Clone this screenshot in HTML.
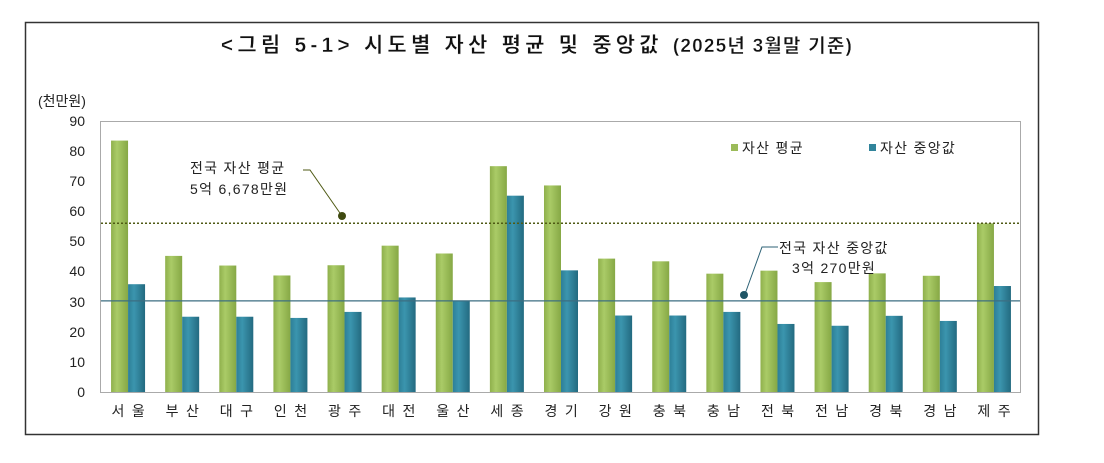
<!DOCTYPE html>
<html><head><meta charset="utf-8"><style>
body{margin:0;background:#fff;}
svg text{font-family:"Liberation Sans","Noto Sans CJK KR",sans-serif;}
</style></head><body>
<svg width="1104" height="458" xmlns="http://www.w3.org/2000/svg">
<defs>
<linearGradient id="g" x1="0" x2="1" y1="0" y2="0"><stop offset="0" stop-color="#8fb04c"/><stop offset="0.35" stop-color="#aacb67"/><stop offset="1" stop-color="#86a845"/></linearGradient>
<linearGradient id="b" x1="0" x2="1" y1="0" y2="0"><stop offset="0" stop-color="#2d7f97"/><stop offset="0.35" stop-color="#3b95ae"/><stop offset="1" stop-color="#236a80"/></linearGradient>
</defs>
<rect x="25.5" y="22.5" width="1013" height="412" fill="#fff" stroke="#333" stroke-width="1.5"/>
<text x="537" y="52" font-size="21" font-weight="bold" letter-spacing="4.2" text-anchor="middle" fill="#111" stroke="#fff" stroke-width="0.4">&lt;그림 5-1&gt; 시도별 자산 평균 및 중앙값 <tspan font-size="19" letter-spacing="1.2">(2025년 3월말 기준)</tspan></text>
<text x="38" y="106" font-size="14" fill="#222">(천만원)</text>
<rect x="100.5" y="121.5" width="920" height="271" fill="#fff" stroke="#aaa"/>
<g font-size="14" fill="#222" text-anchor="end">
<text x="85" y="397">0</text><text x="85" y="367">10</text><text x="85" y="337">20</text><text x="85" y="307">30</text><text x="85" y="276">40</text><text x="85" y="246">50</text><text x="85" y="216">60</text><text x="85" y="186">70</text><text x="85" y="156">80</text><text x="85" y="126">90</text>
</g>
<g id="bars"></g>
<line x1="101" x2="1020" y1="223.3" y2="223.3" stroke="#4f5a14" stroke-width="1.5" stroke-dasharray="2,2"/>
<line x1="101" x2="1020" y1="300.9" y2="300.9" stroke="#3c6e82" stroke-width="1.2"/>
<g font-size="14" fill="#222" letter-spacing="1.3">
<text x="190" y="173">전국 자산 평균</text>
<text x="190" y="194">5억 6,678만원</text>
<text x="779" y="253">전국 자산 중앙값</text>
<text x="792" y="273">3억 270만원</text>
<text x="742" y="153">자산 평균</text>
<text x="880" y="153">자산 중앙값</text>
</g>
<rect x="731" y="144" width="7" height="7" fill="#9bbb59"/>
<rect x="869" y="144" width="7" height="7" fill="#31849b"/>
<polyline points="303,170 310,170 342,216" fill="none" stroke="#4f5a14"/>
<circle cx="342" cy="216" r="4" fill="#3f4a10"/>
<polyline points="778,247 762,247 745,294" fill="none" stroke="#2d6276"/>
<circle cx="744" cy="295" r="4" fill="#1f5566"/>
<g id="labels" font-size="14" fill="#222" text-anchor="middle" letter-spacing="1.8"></g>
</svg>
<script>
var d=[["서 울",83.5,35.8],["부 산",45.2,25],["대 구",42,25],["인 천",38.7,24.6],["광 주",42.1,26.6],["대 전",48.6,31.4],["울 산",46,30.2],["세 종",75,65.2],["경 기",68.6,40.4],["강 원",44.3,25.4],["충 북",43.4,25.4],["충 남",39.3,26.6],["전 북",40.3,22.6],["전 남",36.5,22],["경 북",39.4,25.3],["경 남",38.6,23.6],["제 주",56,35.2]];
var ns="http://www.w3.org/2000/svg",B=document.getElementById("bars"),L=document.getElementById("labels");
var w=920/17;
d.forEach(function(r,i){var c=101+w*(i+0.5);
[[r[1],c-17,"url(#g)"],[r[2],c,"url(#b)"]].forEach(function(v){var h=v[0]*3.011;var e=document.createElementNS(ns,"rect");e.setAttribute("x",v[1]);e.setAttribute("y",392-h);e.setAttribute("width",17);e.setAttribute("height",h);e.setAttribute("fill",v[2]);B.appendChild(e);});
var t=document.createElementNS(ns,"text");t.setAttribute("x",c+1);t.setAttribute("y",416);t.textContent=r[0];L.appendChild(t);});
</script>
</body></html>
